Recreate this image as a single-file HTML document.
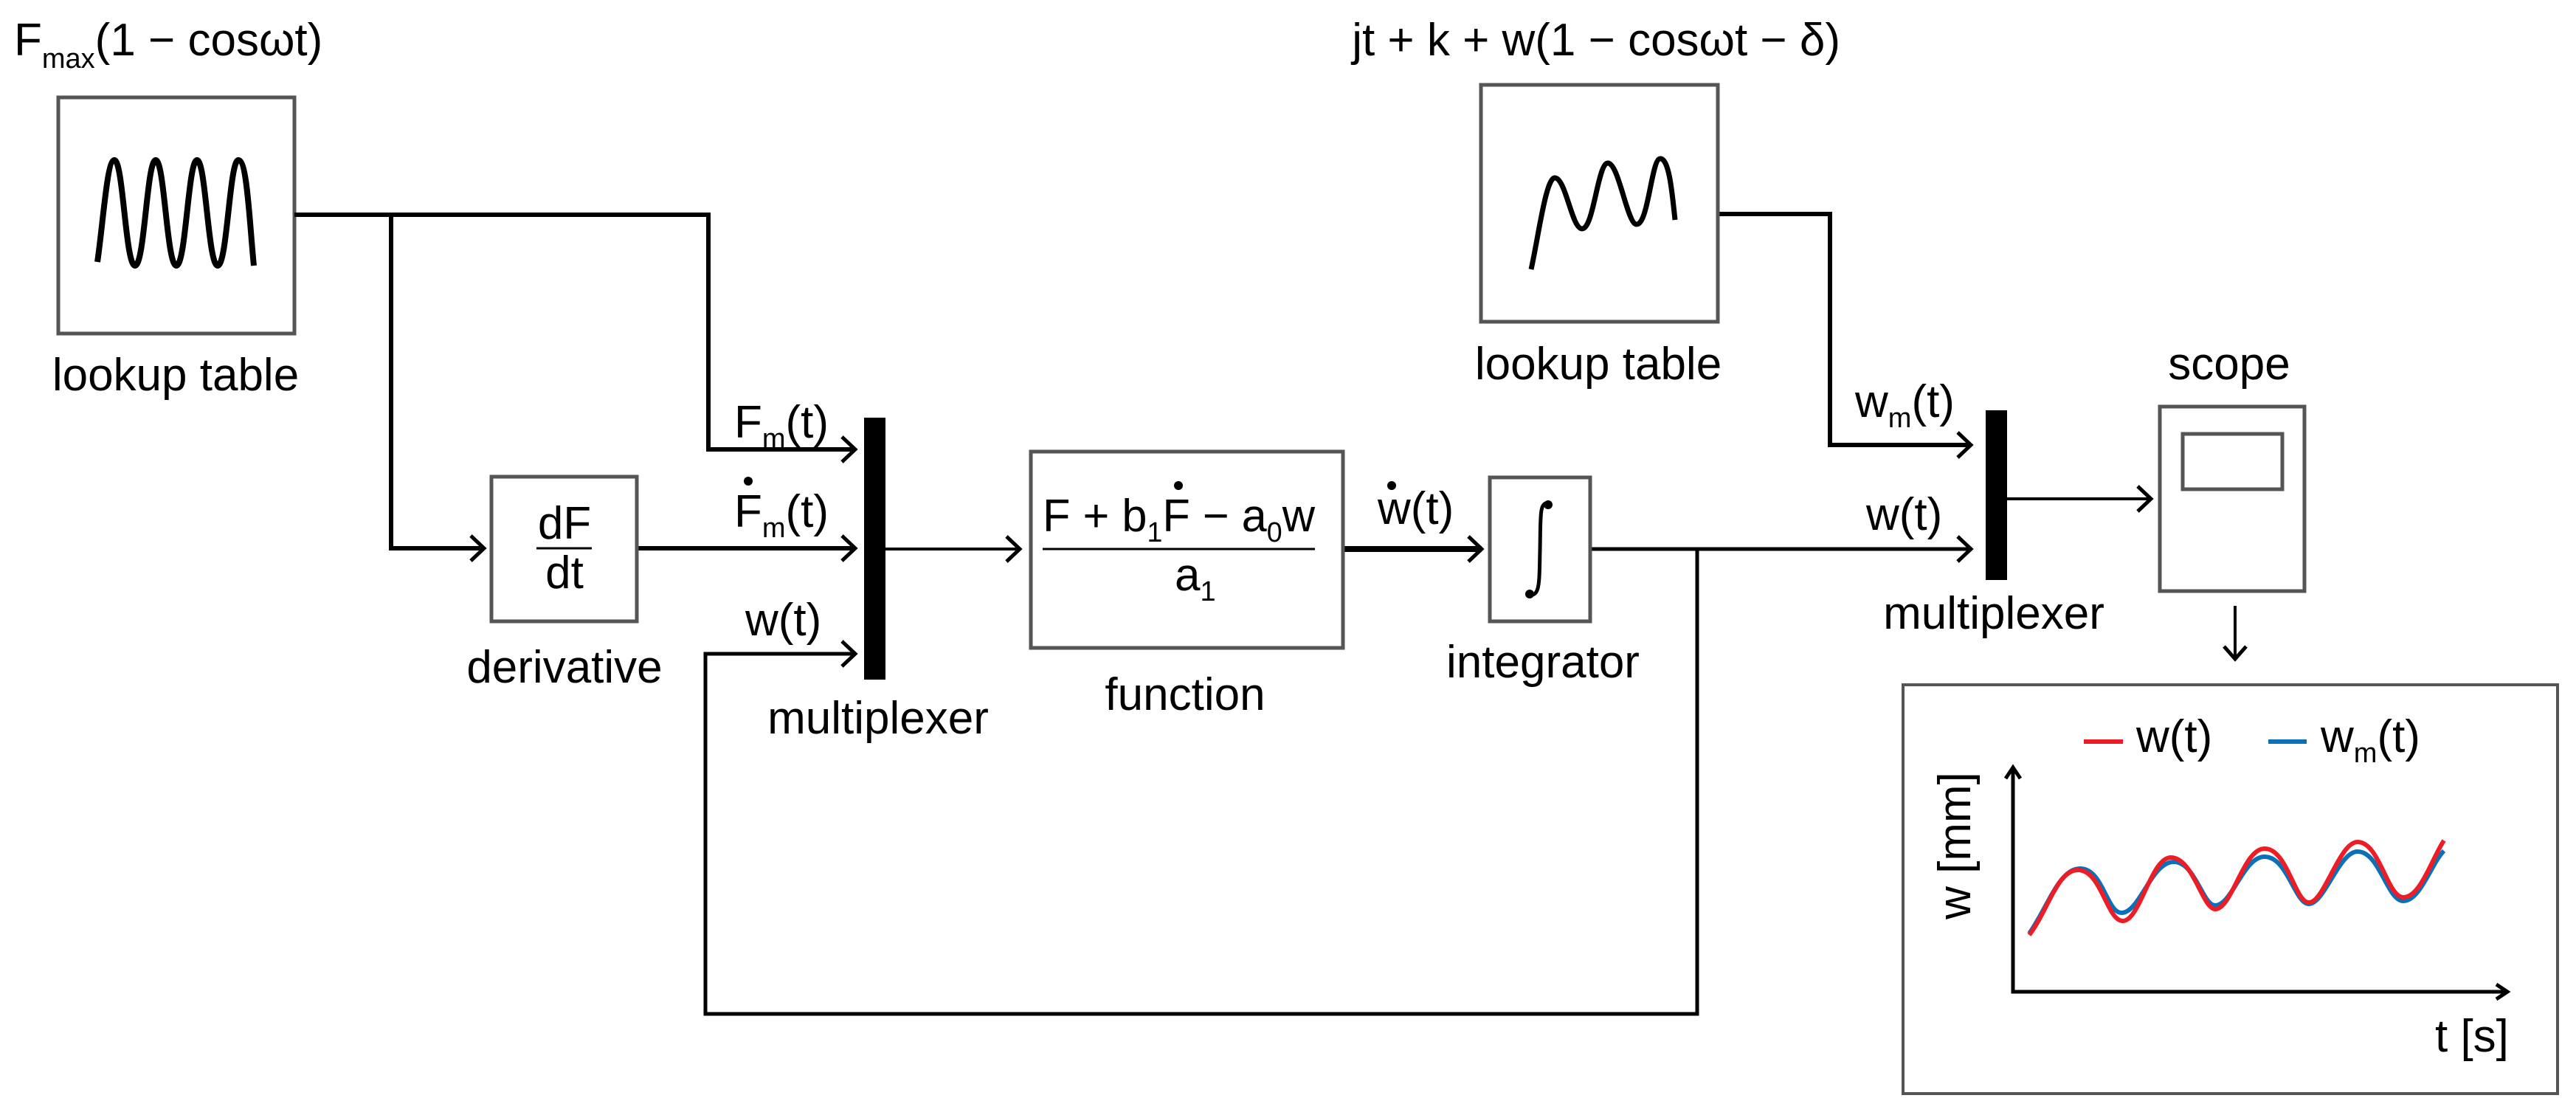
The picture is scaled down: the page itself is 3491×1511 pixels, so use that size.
<!DOCTYPE html>
<html><head><meta charset="utf-8"><style>
html,body{margin:0;padding:0;background:#fff;}
svg{display:block;}
text{font-family:"Liberation Sans",Arial,sans-serif;fill:#000;}
</style></head><body>
<svg width="3491" height="1511" viewBox="0 0 3491 1511" xmlns="http://www.w3.org/2000/svg">
<g font-size="62">
<!-- Title 1 -->
<text x="19" y="75">F<tspan font-size="38" dy="17">max</tspan><tspan dy="-17">(1 − cosωt)</tspan></text>
<!-- Box1 -->
<rect x="79" y="132" width="320" height="320" fill="none" stroke="#555" stroke-width="5"/>
<path d="M132 355 C140 300 145 217 155 217 C167 217 170 360 183 360 C196 360 199 217 211 217 C223 217 226 360 239 360 C252 360 255 217 267 217 C279 217 282 360 295 360 C308 360 311 217 323 217 C335 217 338 300 344 360" fill="none" stroke="#000" stroke-width="8"/>
<text x="238" y="529" text-anchor="middle">lookup table</text>

<!-- connectors left -->
<g fill="none" stroke="#000" stroke-width="6">
<polyline points="399,291 960,291 960,609 1159,609"/>
<polyline points="530,291 530,743 656,743"/>
<line x1="863" y1="743" x2="1159" y2="743"/>
<polyline points="2300,744 2300,1374 956,1374 956,886 1159,886" stroke-width="5"/>
<line x1="1200" y1="744" x2="1382" y2="744" stroke-width="4"/>
<line x1="1820" y1="744" x2="2008" y2="744" stroke-width="8"/>
<line x1="2155" y1="744" x2="2671" y2="744" stroke-width="5"/>
<polyline points="2328,290 2480,290 2480,603 2671,603"/>
<line x1="2720" y1="676" x2="2915" y2="676" stroke-width="4"/>
<line x1="3029" y1="821" x2="3029" y2="893" stroke-width="4"/>
</g>
<!-- arrowheads -->
<g fill="none" stroke="#000" stroke-width="5" stroke-linejoin="miter">
<polyline points="1141,592 1159,609 1141,626"/>
<polyline points="1141,726 1159,743 1141,760"/>
<polyline points="1141,869 1159,886 1141,903"/>
<polyline points="638,726 656,743 638,760"/>
<polyline points="1364,727 1382,744 1364,761"/>
<polyline points="1990,727 2008,744 1990,761"/>
<polyline points="2653,586 2671,603 2653,620"/>
<polyline points="2653,727 2671,744 2653,761"/>
<polyline points="2897,659 2915,676 2897,693"/>
<polyline points="3014,876 3029,893 3044,876"/>
</g>

<!-- derivative -->
<rect x="666" y="646" width="197" height="196" fill="none" stroke="#555" stroke-width="5"/>
<text x="765" y="730" text-anchor="middle">dF</text>
<line x1="727" y1="743" x2="802" y2="743" stroke="#000" stroke-width="3"/>
<text x="765" y="797" text-anchor="middle">dt</text>
<text x="765" y="925" text-anchor="middle">derivative</text>

<!-- labels left mux -->
<text x="995" y="593">F<tspan font-size="38" dy="14">m</tspan><tspan dy="-14">(t)</tspan></text>
<text x="995" y="714">F<tspan font-size="38" dy="14">m</tspan><tspan dy="-14">(t)</tspan></text>
<circle cx="1014" cy="652" r="6" fill="#000"/>
<text x="1010" y="861">w(t)</text>

<!-- mux 1 -->
<rect x="1171" y="566" width="29" height="355" fill="#000"/>
<text x="1190" y="994" text-anchor="middle">multiplexer</text>

<!-- function -->
<rect x="1397" y="612" width="423" height="266" fill="none" stroke="#555" stroke-width="5"/>
<text x="1413" y="720" textLength="369" lengthAdjust="spacingAndGlyphs">F + b<tspan font-size="38" dy="14">1</tspan><tspan dy="-14">F − a</tspan><tspan font-size="38" dy="14">0</tspan><tspan dy="-14">w</tspan></text>
<circle cx="1597" cy="658" r="6" fill="#000"/>
<line x1="1413" y1="744" x2="1782" y2="744" stroke="#000" stroke-width="3"/>
<text x="1592" y="800">a<tspan font-size="38" dy="14">1</tspan></text>
<text x="1606" y="962" text-anchor="middle">function</text>

<!-- wdot label -->
<text x="1867" y="710">w(t)</text>
<circle cx="1886" cy="658" r="6" fill="#000"/>

<!-- integrator -->
<rect x="2019" y="647" width="136" height="195" fill="none" stroke="#555" stroke-width="5"/>
<path d="M2098 682 C2086 680 2088 700 2087 745 C2086 790 2087 808 2073 806" fill="none" stroke="#000" stroke-width="5"/>
<circle cx="2098" cy="684" r="6" fill="#000"/>
<circle cx="2073" cy="805" r="6" fill="#000"/>
<text x="2091" y="918" text-anchor="middle">integrator</text>

<!-- title 2 / box 2 -->
<text x="2494" y="75" text-anchor="end">jt + k + w(1 − cosωt − δ)</text>
<rect x="2007" y="115" width="321" height="321" fill="none" stroke="#555" stroke-width="5"/>
<path d="M2075 365 C2085 320 2095 241 2107 241 C2122 241 2130 310 2144 310 C2160 310 2165 221 2179 221 C2194 221 2205 304 2218 304 C2234 304 2238 215 2250 215 C2262 215 2266 260 2270 298" fill="none" stroke="#000" stroke-width="7"/>
<text x="2166" y="514" text-anchor="middle">lookup table</text>

<text x="2514" y="565">w<tspan font-size="38" dy="14">m</tspan><tspan dy="-14">(t)</tspan></text>
<text x="2529" y="718">w(t)</text>

<rect x="2691" y="556" width="29" height="230" fill="#000"/>
<text x="2702" y="852" text-anchor="middle">multiplexer</text>

<!-- scope -->
<text x="3021" y="514" text-anchor="middle">scope</text>
<rect x="2927" y="551" width="196" height="250" fill="none" stroke="#555" stroke-width="5"/>
<rect x="2958" y="588" width="135" height="75" fill="none" stroke="#555" stroke-width="5"/>

<!-- plot -->
<rect x="2579" y="928" width="887" height="554" fill="none" stroke="#555" stroke-width="4"/>
<line x1="2824" y1="1005" x2="2877" y2="1005" stroke="#ee1c25" stroke-width="6"/>
<text x="2895" y="1019">w(t)</text>
<line x1="3074" y1="1005" x2="3126" y2="1005" stroke="#0a70b8" stroke-width="6"/>
<text x="3145" y="1019">w<tspan font-size="38" dy="14">m</tspan><tspan dy="-14">(t)</tspan></text>
<g fill="none" stroke="#000" stroke-width="5">
<polyline points="2728,1040 2728,1344 3398,1344"/>
<polyline points="2718,1055 2728,1040 2738,1055"/>
<polyline points="3383,1334 3398,1344 3383,1354"/>
</g>
<text transform="translate(2670,1146) rotate(-90)" text-anchor="middle">w [mm]</text>
<text x="3300" y="1425">t [s]</text>
<path d="M2750 1265 C2775 1230 2790 1177 2819 1177 C2850 1177 2855 1237 2875 1237 C2900 1237 2915 1168 2946 1168 C2975 1168 2985 1227 3002 1227 C3025 1227 3040 1161 3069 1161 C3100 1161 3110 1225 3129 1225 C3150 1225 3170 1154 3195 1154 C3225 1154 3235 1221 3257 1221 C3280 1221 3295 1170 3312 1153" fill="none" stroke="#0a70b8" stroke-width="6"/>
<path d="M2750 1267 C2775 1235 2788 1179 2816 1179 C2848 1179 2855 1248 2877 1248 C2900 1248 2915 1162 2942 1162 C2972 1162 2985 1232 3002 1232 C3025 1232 3040 1150 3069 1150 C3100 1150 3110 1223 3129 1223 C3150 1223 3170 1141 3195 1141 C3225 1141 3235 1216 3257 1216 C3280 1216 3295 1165 3312 1139" fill="none" stroke="#ee1c25" stroke-width="6"/>
</g>
</svg>
</body></html>
